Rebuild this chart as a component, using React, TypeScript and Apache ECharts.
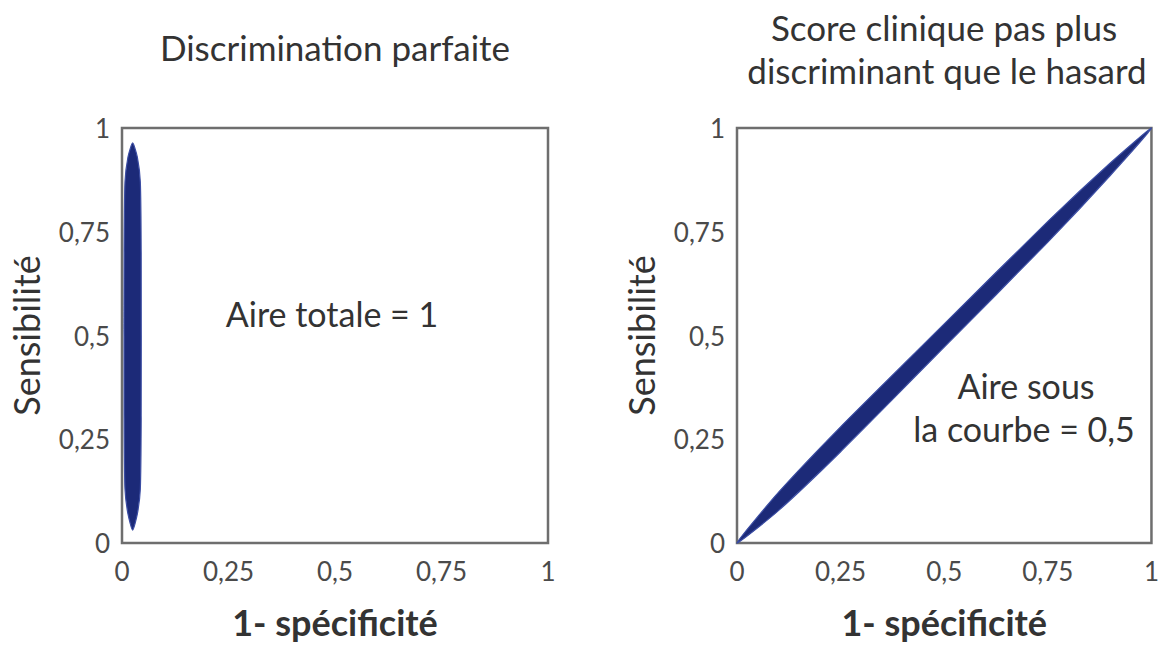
import React, { useEffect, useRef } from "react";
import * as echarts from "echarts";

// ---- data ----
const tickValues = [0, 0.25, 0.5, 0.75, 1];
const titleLeft = "Discrimination parfaite";
const titleRight = ["Score clinique pas plus", "discriminant que le hasard"];
const xAxisTitle = "1- spécificité";
const yAxisTitle = "Sensibilité";
const noteLeft = "Aire totale = 1";
const noteRight = ["Aire sous", "la courbe = 0,5"];

// perfect discrimination: thin lens along x ≈ 0.025
const lensX = [0.025, 0.014, 0.007, 0.005, 0.005, 0.007, 0.014, 0.025, 0.036, 0.043, 0.045, 0.045, 0.043, 0.036];
const lensY = [0.031, 0.07, 0.13, 0.3, 0.7, 0.87, 0.93, 0.964, 0.93, 0.87, 0.7, 0.3, 0.13, 0.07];

// random classifier: band along the diagonal
const bandX = [0, 0.1, 0.25, 0.5, 0.75, 0.9, 1, 0.9, 0.75, 0.5, 0.25, 0.1];
const bandY = [0, 0.122, 0.28, 0.528, 0.775, 0.915, 1, 0.885, 0.725, 0.472, 0.22, 0.078];

const FONT = "Lato";
const NAVY = "#1c2a78";

const fmt = (v: number) => (v === 1 ? "1" : String(v).replace(".", ","));

function axisPair(gridIndex: number) {
  const common = {
    type: "value" as const,
    gridIndex,
    min: tickValues[0],
    max: tickValues[tickValues.length - 1],
    interval: tickValues[1] - tickValues[0],
    splitLine: { show: false },
    axisTick: { show: false },
    axisLine: { show: false },
    axisLabel: {
      formatter: fmt,
      fontFamily: FONT,
      fontSize: 26,
      color: "#4a4a4a",
    },
  };
  return {
    x: {
      ...common,
      axisLabel: { ...common.axisLabel, margin: 15 },
      name: xAxisTitle,
      nameLocation: "middle" as const,
      nameGap: 61,
      nameTextStyle: { fontFamily: FONT, fontSize: 36, fontWeight: "bold" as const, color: "#333" },
    },
    y: {
      ...common,
      axisLabel: { ...common.axisLabel, margin: 12 },
      name: yAxisTitle,
      nameLocation: "middle" as const,
      nameGap: 78,
      nameTextStyle: { fontFamily: FONT, fontSize: 36, color: "#333" },
    },
  };
}

function shapeSeries(idx: number, xs: number[], ys: number[]) {
  return {
    type: "custom" as const,
    xAxisIndex: idx,
    yAxisIndex: idx,
    data: [0],
    silent: true,
    renderItem: (_p: any, api: any) => ({
      type: "polygon",
      shape: { points: xs.map((x, i) => api.coord([x, ys[i]])), smooth: 0.2 },
      style: { fill: NAVY, stroke: "#3b4da3", lineWidth: 1.2 },
    }),
  };
}

function txt(text: string, x: number, y: number, size: number, color = "#333") {
  return {
    type: "text",
    x,
    y,
    style: {
      text,
      fontFamily: FONT,
      fontSize: size,
      fill: color,
      align: "center",
      verticalAlign: "middle",
    },
  };
}

export default function App() {
  const ref = useRef<HTMLDivElement>(null);
  useEffect(() => {
    if (!ref.current) return;
    const chart = echarts.init(ref.current, undefined, { renderer: "svg" });
    const a0 = axisPair(0);
    const a1 = axisPair(1);
    chart.setOption({
      animation: false,
      backgroundColor: "#ffffff",
      grid: [
        { left: 122, top: 128, width: 426, height: 415, show: true, borderColor: "#6e6e6e", borderWidth: 2.5, backgroundColor: "transparent" },
        { left: 737, top: 128, width: 423, height: 415, show: true, borderColor: "#6e6e6e", borderWidth: 2.5, backgroundColor: "transparent" },
      ],
      xAxis: [a0.x, a1.x],
      yAxis: [a0.y, a1.y],
      series: [shapeSeries(0, lensX, lensY), shapeSeries(1, bandX, bandY)],
      graphic: [
        txt(titleLeft, 335, 47, 35),
        txt(titleRight[0], 944, 27, 35),
        txt(titleRight[1], 947, 70, 35),
        txt(noteLeft, 332, 313, 34),
        txt(noteRight[0], 1026, 385, 34),
        txt(noteRight[1], 1024, 428, 34),
      ],
    });
    return () => chart.dispose();
  }, []);
  return (
    <div
      ref={ref}
      style={{ position: "fixed", left: 0, top: 0, width: 1162, height: 645 }}
    />
  );
}
